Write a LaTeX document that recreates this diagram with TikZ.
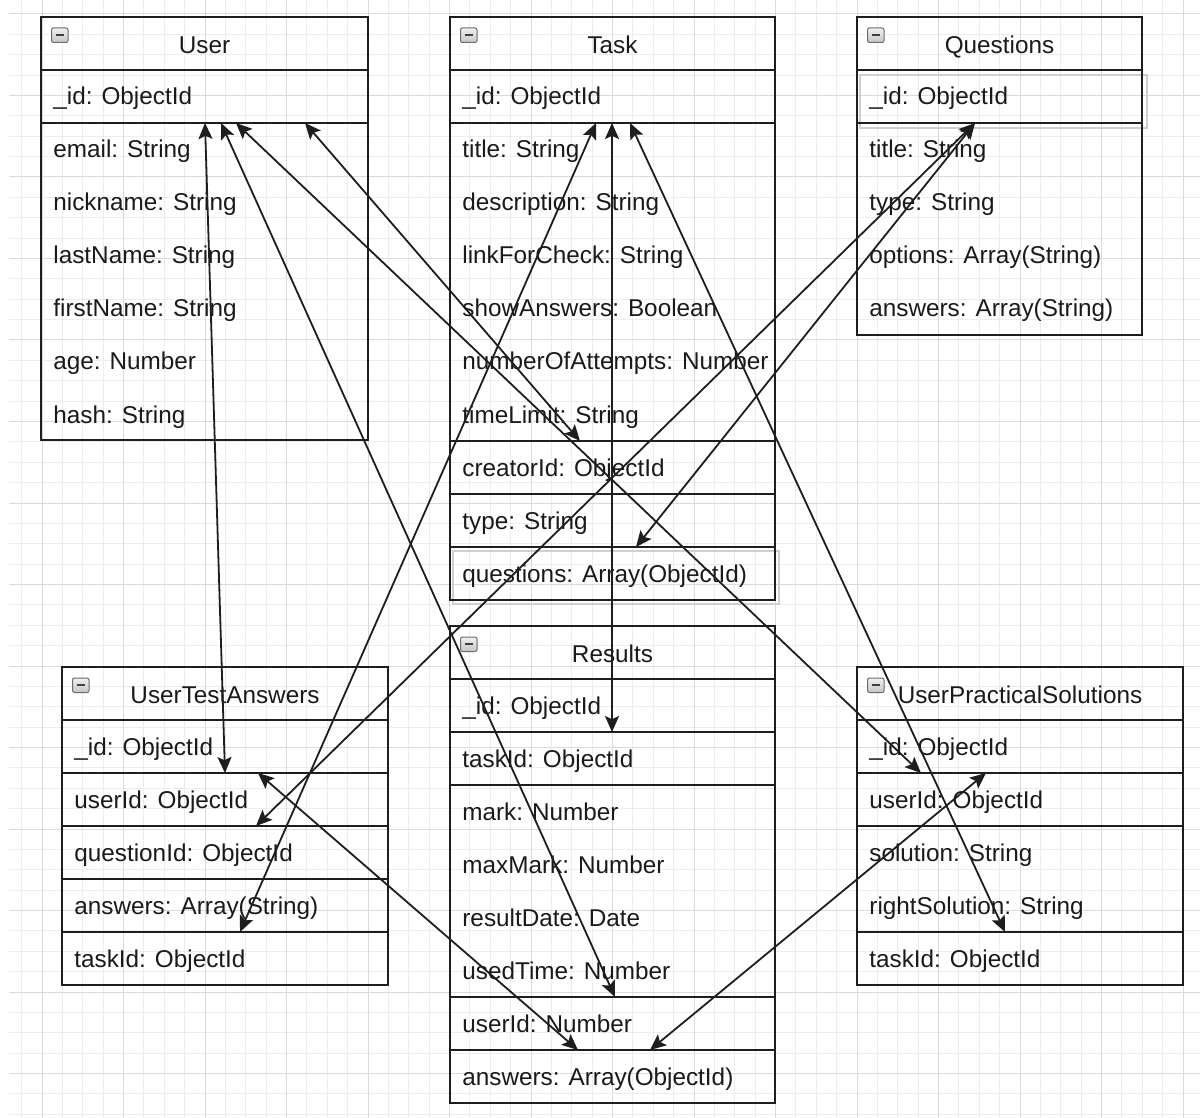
\documentclass[tikz,border=0pt]{standalone}
\usepackage{fontspec}
\setmainfont{Liberation Sans}
\usetikzlibrary{arrows.meta,calc}
\definecolor{txt}{HTML}{1A1A1A}
\definecolor{linec}{HTML}{1E1E1E}
\definecolor{gridminor}{HTML}{EDEDED}
\definecolor{gridmajor}{HTML}{DADADA}
\definecolor{shadowc}{HTML}{CFCFCF}
\tikzset{
  tbl/.style={draw=linec, line width=1.2pt},
  shadowbox/.style={draw=shadowc, line width=0.6pt},
  field/.style={anchor=base west, inner sep=0pt, text=txt, font=\fontsize{12.15}{14}\selectfont},
  htext/.style={anchor=base, inner sep=0pt, text=txt, font=\fontsize{12.15}{14}\selectfont},
  icon/.style={draw=gray!85!black, line width=0.5pt, rounded corners=1pt, top color=gray!12, bottom color=gray!45},
  iconminus/.style={draw=black!75, line width=1pt},
  tipend/.style={},
  link/.style={draw=linec, line width=0.9pt, {Stealth[length=8pt,width=7pt,inset=1.6pt]}-{Stealth[length=8pt,width=7pt,inset=1.6pt]}},
}
\newcommand\hdr[5]{%
  \draw[tbl] (#2,#4) rectangle (#3,#4+53);
  \node[htext] (#1) at ({(#2+#3)/2},{#4+36.5}) {#5};
  \draw[icon] (#2+10.5,#4+11) rectangle (#2+27,#4+25.5);
  \draw[iconminus] (#2+14.5,#4+18.3) -- (#2+23,#4+18.3);
}
\newcommand\fld[4]{\node[field] (#1) at (#2+12,#3+8.5) {#4};}
\begin{document}
\begin{tikzpicture}[x=0.5pt,y=-0.5pt]
\useasboundingbox (0,0) rectangle (1200,1118);
\fill[white] (0,0) rectangle (1200,1118);
% grid
\foreach \k in {-1,...,56} \draw[gridminor, line width=0.5pt] ({42+20.375*\k},0) -- ({42+20.375*\k},1118);
\foreach \k in {0,...,54} \draw[gridminor, line width=0.5pt] (9,{14+20.375*\k}) -- (1200,{14+20.375*\k});
\foreach \k in {0,...,14} \draw[gridmajor, line width=0.5pt] ({42+81.5*\k},0) -- ({42+81.5*\k},1118);
\foreach \k in {0,...,13} \draw[gridmajor, line width=0.5pt] (9,{14+81.5*\k}) -- (1200,{14+81.5*\k});

% ---------- User ----------
\hdr{user-h}{41}{368}{17}{User}
\draw[tbl] (41,70) rectangle (368,123);
\draw[tbl] (41,123) rectangle (368,440);
\fld{user-id}{41}{96.5}{\_id: ObjectId}
\fld{user-email}{41}{149.5}{email: String}
\fld{user-nick}{41}{202.5}{nickname: String}
\fld{user-last}{41}{255.5}{lastName: String}
\fld{user-first}{41}{308.5}{firstName: String}
\fld{user-age}{41}{361.5}{age: Number}
\fld{user-hash}{41}{414.5}{hash: String}

% ---------- Task ----------
\hdr{task-h}{450}{775}{17}{Task}
\draw[tbl] (450,70) rectangle (775,123);
\draw[tbl] (450,123) rectangle (775,441);
\draw[tbl] (450,441) rectangle (775,494);
\draw[tbl] (450,494) rectangle (775,547);
\draw[shadowbox] (453,551) rectangle (779,604);
\draw[tbl] (450,547) rectangle (775,600);
\fld{task-id}{450}{96.5}{\_id: ObjectId}
\fld{task-title}{450}{149.5}{title: String}
\fld{task-desc}{450}{202.5}{description: String}
\fld{task-link}{450}{255.5}{linkForCheck: String}
\fld{task-show}{450}{308.5}{showAnswers: Boolean}
\fld{task-num}{450}{361.5}{numberOfAttempts: Number}
\fld{task-time}{450}{414.5}{timeLimit: String}
\fld{task-creator}{450}{467.5}{creatorId: ObjectId}
\fld{task-type}{450}{520.5}{type: String}
\fld{task-q}{450}{573.5}{questions: Array(ObjectId)}

% ---------- Questions ----------
\hdr{q-h}{857}{1142}{17}{Questions}
\draw[shadowbox] (860,75) rectangle (1147,128);
\draw[tbl] (857,70) rectangle (1142,123);
\draw[tbl] (857,123) rectangle (1142,335);
\fld{q-id}{857}{96.5}{\_id: ObjectId}
\fld{q-title}{857}{149.5}{title: String}
\fld{q-type}{857}{202.5}{type: String}
\fld{q-opt}{857}{255.5}{options: Array(String)}
\fld{q-ans}{857}{308.5}{answers: Array(String)}

% ---------- UserTestAnswers ----------
\hdr{uta-h}{62}{388}{667}{UserTestAnswers}
\draw[tbl] (62,720) rectangle (388,773);
\draw[tbl] (62,773) rectangle (388,826);
\draw[tbl] (62,826) rectangle (388,879);
\draw[tbl] (62,879) rectangle (388,932);
\draw[tbl] (62,932) rectangle (388,985);
\fld{uta-id}{62}{746.5}{\_id: ObjectId}
\fld{uta-user}{62}{799.5}{userId: ObjectId}
\fld{uta-q}{62}{852.5}{questionId: ObjectId}
\fld{uta-ans}{62}{905.5}{answers: Array(String)}
\fld{uta-task}{62}{958.5}{taskId: ObjectId}

% ---------- Results ----------
\hdr{res-h}{450}{775}{626}{Results}
\draw[tbl] (450,679) rectangle (775,732);
\draw[tbl] (450,732) rectangle (775,785);
\draw[tbl] (450,785) rectangle (775,997);
\draw[tbl] (450,997) rectangle (775,1050);
\draw[tbl] (450,1050) rectangle (775,1103);
\fld{res-id}{450}{705.5}{\_id: ObjectId}
\fld{res-task}{450}{758.5}{taskId: ObjectId}
\fld{res-mark}{450}{811.5}{mark: Number}
\fld{res-max}{450}{864.5}{maxMark: Number}
\fld{res-date}{450}{917.5}{resultDate: Date}
\fld{res-time}{450}{970.5}{usedTime: Number}
\fld{res-user}{450}{1023.5}{userId: Number}
\fld{res-ans}{450}{1076.5}{answers: Array(ObjectId)}

% ---------- UserPracticalSolutions ----------
\hdr{ups-h}{857}{1183}{667}{UserPracticalSolutions}
\draw[tbl] (857,720) rectangle (1183,773);
\draw[tbl] (857,773) rectangle (1183,826);
\draw[tbl] (857,826) rectangle (1183,932);
\draw[tbl] (857,932) rectangle (1183,985);
\fld{ups-id}{857}{746.5}{\_id: ObjectId}
\fld{ups-user}{857}{799.5}{userId: ObjectId}
\fld{ups-sol}{857}{852.5}{solution: String}
\fld{ups-right}{857}{905.5}{rightSolution: String}
\fld{ups-task}{857}{958.5}{taskId: ObjectId}

% ---------- connector end points ----------
\coordinate (u1) at (205,123);
\coordinate (u2) at (221,123);
\coordinate (u3) at (236,123);
\coordinate (u4) at (305,123);
\coordinate (t1) at (596,123);
\coordinate (t2) at (612,123);
\coordinate (t3) at (630,123);
\coordinate (tc) at (580,441);
\coordinate (tq) at (636,547);
\coordinate (q1) at (975,123);
\coordinate (a1) at (225,773);
\coordinate (a2) at (258,773);
\coordinate (aq) at (256,826);
\coordinate (at) at (240,932);
\coordinate (rt) at (612,732);
\coordinate (ru) at (615,997);
\coordinate (ra1) at (578,1050);
\coordinate (ra2) at (650,1050);
\coordinate (p1) at (921,773);
\coordinate (p2) at (986,773);
\coordinate (pt) at (1005,932);

% ---------- connectors ----------
\draw[link] (u1) -- (a1);
\draw[link] (u2) -- (ru);
\draw[link] (u3) -- (p1);
\draw[link] (u4) -- (tc);
\draw[link] (t1) -- (at);
\draw[link] (t2) -- (rt);
\draw[link] (t3) -- (pt);
\draw[link] (q1) -- (tq);
\draw[link] (q1) -- (aq);
\draw[link] (a2) -- (ra1);
\draw[link] (p2) -- (ra2);
\end{tikzpicture}
\end{document}
